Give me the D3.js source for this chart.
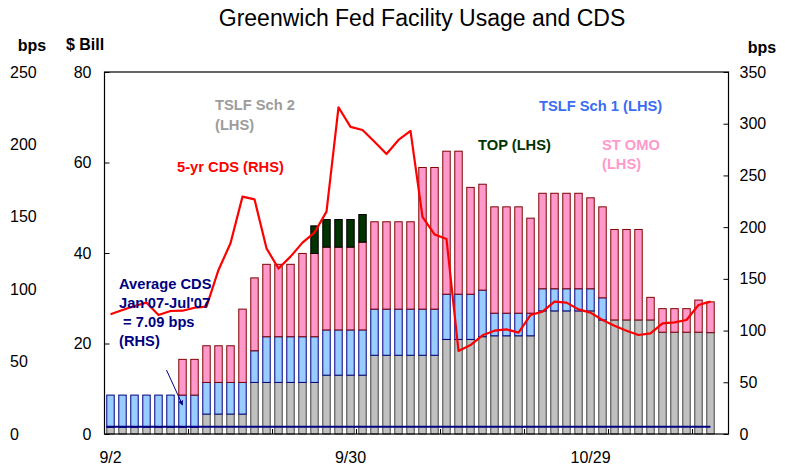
<!DOCTYPE html>
<html>
<head>
<meta charset="utf-8">
<script src="https://cdn.jsdelivr.net/npm/d3@7"></script>
<style>
  body { margin: 0; background: #fff; }
  svg { font-family: "Liberation Sans", Arial, sans-serif; }
</style>
</head>
<body>
<svg id="chart"></svg>
<script>
// business days, last slot is left empty on the chart
let dates = ["9/2","9/3","9/4","9/5","9/8","9/9","9/10","9/11","9/12","9/15","9/16","9/17","9/18","9/19",
  "9/22","9/23","9/24","9/25","9/26","9/29","9/30","10/1","10/2","10/3","10/6","10/7","10/8","10/9","10/10",
  "10/14","10/15","10/16","10/17","10/20","10/21","10/22","10/23","10/24","10/27","10/28","10/29","10/30",
  "10/31","11/3","11/4","11/5","11/6","11/7","11/10","11/12","11/13",""];

// $ Bill (LHS)
let tslfSch2 = [1.5,1.5,1.5,1.5,1.5,1.5,1.5,1.5,4.4,4.4,4.4,4.4,11.4,11.4,11.4,11.4,11.4,11.4,13.0,13.0,13.0,13.0,
  17.4,17.4,17.4,17.4,17.4,17.4,20.9,20.9,20.9,21.5,21.7,21.7,21.7,21.7,27.2,27.2,27.2,27.2,27.2,
  25.2,25.2,25.2,25.2,25.2,22.5,22.5,22.5,22.5,22.4];
let tslfSch1 = [7.1,7.1,7.1,7.1,7.1,7.1,7.1,7.1,7.0,7.0,7.0,7.0,7.0,10.1,10.1,10.1,10.1,10.1,10.0,10.0,10.0,10.0,
  10.2,10.2,10.2,10.2,10.2,10.2,10.0,10.0,10.0,10.3,5.0,5.0,5.0,5.0,4.9,4.9,4.9,4.9,4.9,
  4.9,0,0,0,0,0,0,0,0,0];
let stOmo = [0,0,0,0,0,0,7.9,7.9,8.1,8.1,8.1,16.2,16.1,16.0,16.0,16.0,18.4,18.4,18.3,18.3,18.3,19.4,
  19.3,19.3,19.3,19.3,31.3,31.3,31.6,31.6,23.6,23.4,23.5,23.5,23.5,21.0,21.1,21.1,21.1,21.1,20.1,
  20.1,20.0,20.0,20.0,5.0,5.2,5.2,5.2,7.1,6.8];
let topFac = [0,0,0,0,0,0,0,0,0,0,0,0,0,0,0,0,0,6.1,6.1,6.1,6.1,6.1,
  0,0,0,0,0,0,0,0,0,0,0,0,0,0,0,0,0,0,0,0,0,0,0,0,0,0,0,0,0];

// bps (RHS)
let cds5yr = [115.7,119.9,123.8,127,115,118.9,119.2,122.1,123.1,158.6,184.4,229.5,226.9,179.5,160,171.5,185,194.7,
  215,315.9,297,293.9,282.6,270.7,284.3,293,210,193,188.5,80.3,86,95.4,99.9,101.2,98,115,118.3,128,127,
  120.5,117.3,110.2,104.7,99.9,95.7,97.3,107,108,110.2,124.7,128];
let avgCds = 7.09;

let xTickLabels = ["9/2", "9/30", "10/29"];
let leftTicks = [0, 20, 40, 60, 80];
let bpsLeftTicks = [0, 50, 100, 150, 200, 250];
let rightTicks = [0, 50, 100, 150, 200, 250, 300, 350];

let width = 785;
let height = 470;
let plot = {left: 104.5, right: 728.5, top: 72, bottom: 434};

let svg = d3.select("#chart").attr("width", width).attr("height", height);

let rows = tslfSch2.map((v, i) => ({
  date: dates[i], sch2: v, sch1: tslfSch1[i], stomo: stOmo[i], top: topFac[i], cds: cds5yr[i]
}));

let xScale = d3.scaleBand().domain(dates).range([plot.left, plot.right])
  .paddingInner(0.38).paddingOuter(0.19);
let yLeft = d3.scaleLinear().domain([0, 80]).range([plot.bottom, plot.top]);
let yRight = d3.scaleLinear().domain([0, 350]).range([plot.bottom, plot.top]);
let yBps = d3.scaleLinear().domain([0, 250]).range([plot.bottom, plot.top]);

let step = xScale.step();
let xc = d => xScale(d) + xScale.bandwidth() / 2;

// stacked bars
let keys = ["sch2", "sch1", "stomo", "top"];
let fills = {sch2: "#c0c0c0", sch1: "#99ccff", stomo: "#ff99cc", top: "#003300"};
let strokes = {sch2: "#444444", sch1: "#000080", stomo: "#800000", top: "#000000"};
let stacked = d3.stack().keys(keys)(rows);

svg.append("g").selectAll("g")
  .data(stacked)
  .enter()
  .append("g")
  .attr("fill", s => fills[s.key])
  .attr("stroke", s => strokes[s.key])
  .attr("stroke-width", 1)
  .selectAll("rect")
  .data(s => s.filter(d => d[1] - d[0] > 0))
  .enter()
  .append("rect")
  .attr("x", d => xScale(d.data.date))
  .attr("width", xScale.bandwidth())
  .attr("y", d => yLeft(d[1]))
  .attr("height", d => yLeft(d[0]) - yLeft(d[1]));

// average CDS line
svg.append("line")
  .attr("x1", xc(dates[0]) - 4)
  .attr("x2", xc(dates[rows.length - 1]))
  .attr("y1", yRight(avgCds))
  .attr("y2", yRight(avgCds))
  .attr("stroke", "#000080")
  .attr("stroke-width", 2);

// 5-yr CDS line
let cdsLine = d3.line().x(d => xc(d.date)).y(d => yRight(d.cds));
svg.append("path")
  .datum(rows)
  .attr("d", cdsLine)
  .attr("fill", "none")
  .attr("stroke", "#ff0000")
  .attr("stroke-width", 2.2)
  .attr("stroke-linejoin", "round");

// plot frame
svg.append("rect")
  .attr("x", plot.left).attr("y", plot.top)
  .attr("width", plot.right - plot.left).attr("height", plot.bottom - plot.top)
  .attr("fill", "none").attr("stroke", "#000").attr("stroke-width", 1.2);

// axes
let leftAxis = d3.axisLeft(yLeft).tickValues(leftTicks).tickSizeInner(-5).tickSizeOuter(0).tickPadding(13);
let gl = svg.append("g").attr("transform", "translate(" + plot.left + ",0)").call(leftAxis);

let rightAxis = d3.axisRight(yRight).tickValues(rightTicks).tickSizeInner(-5).tickSizeOuter(0).tickPadding(11);
let gr = svg.append("g").attr("transform", "translate(" + plot.right + ",0)").call(rightAxis);

let bpsAxis = d3.axisLeft(yBps).tickValues(bpsLeftTicks).tickSize(0).tickPadding(0);
let gb = svg.append("g").attr("transform", "translate(10,0)").call(bpsAxis);
gb.selectAll("text").attr("text-anchor", "start").attr("x", 0);

let bottomAxis = d3.axisBottom(xScale).tickValues(xTickLabels).tickSize(0).tickPadding(18);
let gx = svg.append("g").attr("transform", "translate(0," + plot.bottom + ")").call(bottomAxis);

[gl, gr, gb, gx].forEach(g => {
  g.select(".domain").remove();
  g.selectAll("text").attr("font-size", "16px").attr("fill", "#000")
    .attr("font-family", "'Liberation Sans', Arial, sans-serif");
  g.selectAll("line").attr("stroke", "#000");
});

// weekly tick marks on category axis, between bars
let weekTicks = d3.range(7, dates.length, 7);
svg.append("g").selectAll("line")
  .data(weekTicks)
  .enter()
  .append("line")
  .attr("x1", i => xScale(dates[i]) - (step - xScale.bandwidth()) / 2)
  .attr("x2", i => xScale(dates[i]) - (step - xScale.bandwidth()) / 2)
  .attr("y1", plot.bottom)
  .attr("y2", plot.bottom - 5)
  .attr("stroke", "#000");

// titles
svg.append("text")
  .attr("x", 422).attr("y", 26)
  .attr("text-anchor", "middle")
  .attr("font-size", "23px")
  .text("Greenwich Fed Facility Usage and CDS");

let unitLabels = [["bps", 32, 45], ["$ Bill", 85, 44], ["bps", 762, 47]];
svg.append("g").selectAll("text")
  .data(unitLabels)
  .enter()
  .append("text")
  .attr("x", d => d[1]).attr("y", d => d[2])
  .attr("dy", "0.35em")
  .attr("text-anchor", "middle")
  .attr("font-size", "16px")
  .attr("font-weight", "bold")
  .text(d => d[0]);

// series annotations
let notes = [
  {lines: ["TSLF Sch 2", "(LHS)"], x: 215, y: 105, gap: 20, color: "#9c9c9c"},
  {lines: ["5-yr CDS (RHS)"], x: 177, y: 167, gap: 19, color: "#ff0000"},
  {lines: ["Average CDS", "Jan'07-Jul'07", "\u00a0= 7.09 bps", "(RHS)"], x: 119, y: 284, gap: 19, color: "#000080"},
  {lines: ["TOP (LHS)"], x: 478, y: 145, gap: 19, color: "#003300"},
  {lines: ["TSLF Sch 1 (LHS)"], x: 539, y: 106, gap: 19, color: "#3a6cf4"},
  {lines: ["ST OMO", "(LHS)"], x: 602, y: 145, gap: 19, color: "#ff99cc"}
];
notes.forEach(n => {
  let t = svg.append("text")
    .attr("font-size", "14.7px")
    .attr("font-weight", "bold")
    .attr("fill", n.color);
  n.lines.forEach((l, i) => {
    t.append("tspan").attr("x", n.x).attr("y", n.y + i * n.gap).attr("dy", "0.35em").text(l);
  });
});

// arrow from the average CDS note to the line
svg.append("defs").append("marker")
  .attr("id", "arrow").attr("viewBox", "0 0 10 10")
  .attr("refX", 9).attr("refY", 5)
  .attr("markerWidth", 5).attr("markerHeight", 5)
  .attr("orient", "auto")
  .append("path").attr("d", "M0,0L10,5L0,10z").attr("fill", "#000080");

let ax = xc(dates[6]);
let ay = yLeft(6.4);
svg.append("line")
  .attr("x1", ax - 16).attr("y1", ay - 35)
  .attr("x2", ax).attr("y2", ay)
  .attr("stroke", "#000080").attr("stroke-width", 1)
  .attr("marker-end", "url(#arrow)");
</script>
</body>
</html>
